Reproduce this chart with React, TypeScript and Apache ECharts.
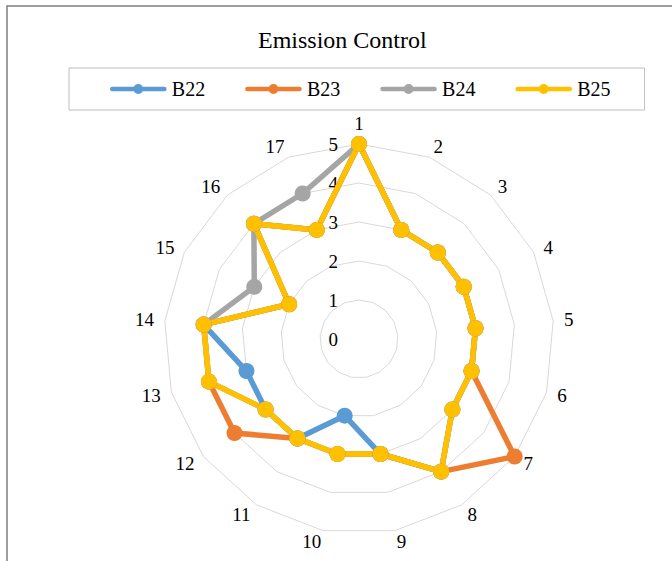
import React, { useEffect, useRef } from "react";
import * as echarts from "echarts";

const indicators = ["1","2","3","4","5","6","7","8","9","10","11","12","13","14","15","16","17"];
const seriesNames = ["B22", "B23", "B24", "B25"];
const b22 = [5,3,3,3,3,3,3,4,3,2,3,3,3,4,2,4,3];
const b23 = [5,3,3,3,3,3,5,4,3,3,3,4,4,4,2,4,3];
const b24 = [5,3,3,3,3,3,3,4,3,3,3,3,4,4,3,4,4];
const b25 = [5,3,3,3,3,3,3,4,3,3,3,3,4,4,2,4,3];
const colors = ["#5B9BD5", "#ED7D31", "#A5A5A5", "#FFC000"];
const maxValue = 5;

const FONT = "Liberation Serif";
const ICON = "path://M2.5,2.7 L54.5,2.7 A2.3,2.3 0 0 1 54.5,7.3 L2.5,7.3 A2.3,2.3 0 0 1 2.5,2.7 Z M23.5,5 A5,5 0 1 1 33.5,5 A5,5 0 1 1 23.5,5 Z";

// ECharts radar lays indicators counter-clockwise; reorder so they run clockwise
function clockwise<T>(arr: T[]): T[] {
  return [arr[0], ...arr.slice(1).reverse()];
}

export default function App() {
  const ref = useRef<HTMLDivElement>(null);
  useEffect(() => {
    if (!ref.current) return;
    const chart = echarts.init(ref.current, null, { renderer: "svg" });
    const values = [b22, b23, b24, b25];
    const inds = clockwise(indicators);
    chart.setOption({
      animation: false,
      backgroundColor: "#ffffff",
      title: {
        text: "Emission Control",
        left: 258,
        top: 28,
        padding: 0,
        textStyle: { fontFamily: FONT, fontSize: 24, fontWeight: "normal", color: "#000" },
      },
      legend: {
        data: seriesNames,
        left: 69,
        top: 68,
        padding: [11, 34, 11, 41],
        itemGap: 40,
        itemWidth: 57,
        itemHeight: 10,
        icon: ICON,
        borderColor: "#bfbfbf",
        borderWidth: 1,
        borderRadius: 0,
        textStyle: { fontFamily: FONT, fontSize: 20, color: "#000" },
        selectedMode: false,
      },
      graphic: [
        {
          type: "rect",
          shape: { x: 7, y: 6, width: 720, height: 620 },
          style: { fill: "none", stroke: "#7f7f7f", lineWidth: 1.5 },
          silent: true,
        },
      ],
      radar: {
        center: [359, 339],
        radius: 195,
        startAngle: 90,
        splitNumber: 5,
        shape: "polygon",
        indicator: inds.map((n, i) =>
          i === 0
            ? { name: n, max: maxValue, min: 0, axisLabel: { show: true, margin: 21, fontFamily: FONT, fontSize: 19, color: "#000" } }
            : { name: n, max: maxValue, min: 0 }
        ),
        axisName: { color: "#000", fontFamily: FONT, fontSize: 19 },
        nameGap: 11,
        axisLine: { show: false },
        axisTick: { show: false },
        axisLabel: { show: false },
        splitLine: { show: true, lineStyle: { color: "#d9d9d9", width: 1 } },
        splitArea: { show: false },
      },
      series: [
        {
          type: "radar",
          symbol: "circle",
          symbolSize: 16,
          data: seriesNames.map((name, i) => ({
            name,
            value: clockwise(values[i]),
            lineStyle: { color: colors[i], width: 5.5 },
            itemStyle: { color: colors[i] },
          })),
        },
      ],
    });
    return () => chart.dispose();
  }, []);
  return <div ref={ref} style={{ position: "fixed", left: 0, top: 0, width: 672, height: 561 }} />;
}
